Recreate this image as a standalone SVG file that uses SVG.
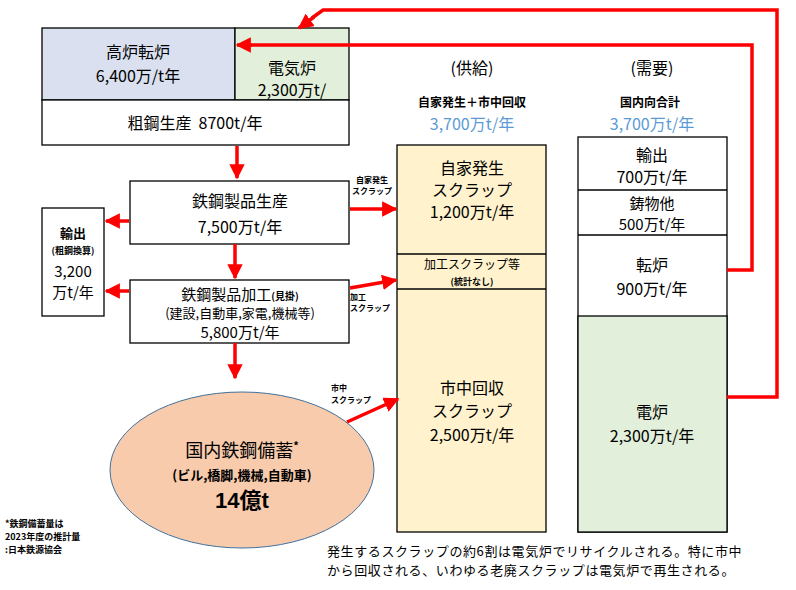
<svg xmlns="http://www.w3.org/2000/svg" width="796" height="590" viewBox="0 0 796 590">
<defs>
<style>
text{font-family:"Noto Sans CJK JP","Noto Sans",sans-serif;fill:#000;text-anchor:middle}
.m{font-size:16px}
.t{font-size:15px}
.s{font-size:12px;font-weight:bold}
.xs{font-size:9px;font-weight:bold}
.b{fill:#5b9bd5;font-size:16px}
.box{stroke:#000;stroke-width:1.3}
.r{stroke:#ff0000;stroke-width:3.5;fill:none}
</style>
<marker id="ah" viewBox="0 0 10 10" refX="9" refY="5" markerWidth="4.4" markerHeight="4.4" orient="auto" markerUnits="strokeWidth"><path d="M0,0L10,5L0,10z" fill="#ff0000"/></marker>
</defs>
<rect width="796" height="590" fill="#fff"/>

<g id="crude">
<rect x="42" y="28" width="193" height="72" fill="#dae0f0" class="box"/>
<rect x="235" y="28" width="114" height="72" fill="#e2efda" class="box"/>
<rect x="42" y="100" width="307" height="45" fill="#fff" class="box"/>
<text x="138" y="58" class="m">高炉転炉</text>
<text x="138" y="82" class="m">6,400万/t年</text>
<text x="292" y="74" class="m">電気炉</text>
<text x="292" y="96" class="m">2,300万t/</text>
<text x="195" y="129" class="m" xml:space="preserve">粗鋼生産  8700t/年</text>
</g>

<g id="production">
<rect x="130" y="181" width="219" height="63" fill="#fff" class="box"/>
<text x="240" y="207" class="m">鉄鋼製品生産</text>
<text x="240" y="233" class="m">7,500万t/年</text>
</g>

<g id="processing">
<rect x="130" y="280" width="219" height="63" fill="#fff" class="box"/>
<text x="240" y="300" class="t">鉄鋼製品加工<tspan class="xs" style="font-size:10px">(見掛)</tspan></text>
<text x="240" y="318" style="font-size:13px">(建設,自動車,家電,機械等)</text>
<text x="240" y="338" class="t">5,800万t/年</text>
</g>

<g id="export">
<rect x="42" y="208" width="62" height="108" fill="#fff" class="box"/>
<text x="73" y="238" style="font-size:13px;font-weight:bold">輸出</text>
<text x="73" y="254" class="xs">(粗鋼換算)</text>
<text x="73" y="277" class="t">3,200</text>
<text x="73" y="298" class="t">万t/年</text>
</g>

<g id="stock">
<ellipse cx="242" cy="470" rx="132" ry="78" fill="#f8cbad" stroke="#41719c" stroke-width="1"/>
<text x="242" y="457" style="font-size:18px">国内鉄鋼備蓄<tspan dy="-7" style="font-size:11px;font-weight:bold">*</tspan></text>
<text x="242" y="480" style="font-size:13px;font-weight:bold">(ビル,橋脚,機械,自動車)</text>
<text x="242" y="508" style="font-size:22px;font-weight:bold;font-family:'Liberation Sans','Noto Sans CJK JP',sans-serif">14億t</text>
</g>

<g id="supply">
<text x="472" y="74" class="m">(供給)</text>
<text x="472" y="107" class="s">自家発生＋市中回収</text>
<text x="472" y="130" class="b">3,700万t/年</text>
<rect x="397" y="145" width="149" height="387" fill="#fff2cc" class="box"/>
<line x1="397" y1="254" x2="546" y2="254" class="box"/>
<line x1="397" y1="289" x2="546" y2="289" class="box"/>
<text x="472" y="174" class="m">自家発生</text>
<text x="472" y="196" class="m">スクラップ</text>
<text x="472" y="218" class="m">1,200万t/年</text>
<text x="472" y="269" style="font-size:12px">加工スクラップ等</text>
<text x="472" y="285" class="xs">(統計なし)</text>
<text x="472" y="394" class="m">市中回収</text>
<text x="472" y="417" class="m">スクラップ</text>
<text x="472" y="441" class="m">2,500万t/年</text>
</g>

<g id="demand">
<text x="652" y="74" class="m">(需要)</text>
<text x="650" y="107" class="s">国内向合計</text>
<text x="652" y="130" class="b">3,700万t/年</text>
<rect x="578" y="137" width="149" height="395" fill="#fff" class="box"/>
<rect x="578" y="316" width="149" height="216" fill="#e2efda" class="box"/>
<line x1="578" y1="190" x2="727" y2="190" class="box"/>
<line x1="578" y1="235" x2="727" y2="235" class="box"/>
<text x="652" y="161" class="m">輸出</text>
<text x="652" y="183" class="m">700万t/年</text>
<text x="652" y="209" class="t">鋳物他</text>
<text x="652" y="230" class="t">500万t/年</text>
<text x="652" y="271" class="m">転炉</text>
<text x="652" y="295" class="m">900万t/年</text>
<text x="652" y="418" class="m">電炉</text>
<text x="652" y="442" class="m">2,300万t/年</text>
</g>

<g id="connectors">
<line x1="237" y1="146" x2="237" y2="178" class="r" stroke-width="4" marker-end="url(#ah)"/>
<line x1="235" y1="244" x2="235" y2="278" class="r" stroke-width="4" marker-end="url(#ah)"/>
<line x1="235" y1="343" x2="235" y2="378" class="r" stroke-width="4" marker-end="url(#ah)"/>
<line x1="129" y1="221" x2="106" y2="221" class="r" stroke-width="3.5" marker-end="url(#ah)"/>
<line x1="129" y1="291" x2="106" y2="291" class="r" stroke-width="3.5" marker-end="url(#ah)"/>
<line x1="350" y1="209" x2="396" y2="209" class="r" stroke-width="3.5" marker-end="url(#ah)"/>
<line x1="350" y1="288" x2="396" y2="280" class="r" stroke-width="3.5" marker-end="url(#ah)"/>
<line x1="347" y1="422" x2="398" y2="399" class="r" stroke-width="6" marker-end="url(#ah)"/>
<polyline points="727,270 752,270 752,45 250,45" class="r" stroke-width="3"/>
<line x1="252" y1="45" x2="237" y2="45" class="r" stroke-width="3" marker-end="url(#ah)"/>
<polyline points="727,397 777,397 777,10 323,10 312,18" class="r" stroke-width="3"/>
<line x1="314" y1="17" x2="299" y2="28" class="r" stroke-width="3" marker-end="url(#ah)"/>
<text x="372" y="183" class="xs" style="font-size:8px">自家発生</text>
<text x="372" y="194" class="xs" style="font-size:8px">スクラップ</text>
<text x="350" y="300" class="xs" style="font-size:8px;text-anchor:start">加工</text>
<text x="350" y="311" class="xs" style="font-size:8px;text-anchor:start">スクラップ</text>
<text x="331" y="391" class="xs" style="font-size:8px;text-anchor:start">市中</text>
<text x="331" y="403" class="xs" style="font-size:8px;text-anchor:start">スクラップ</text>
</g>

<g id="notes">
<text x="5" y="527" class="xs" style="text-anchor:start">*鉄鋼備蓄量は</text>
<text x="5" y="540" class="xs" style="text-anchor:start">2023年度の推計量</text>
<text x="5" y="553" class="xs" style="text-anchor:start">:日本鉄源協会</text>
<text x="327" y="556" style="font-size:13px;text-anchor:start;letter-spacing:0.6px">発生するスクラップの約6割は電気炉でリサイクルされる。特に市中</text>
<text x="327" y="575" style="font-size:13px;text-anchor:start;letter-spacing:0.6px">から回収される、いわゆる老廃スクラップは電気炉で再生される。</text>
</g>
</svg>
